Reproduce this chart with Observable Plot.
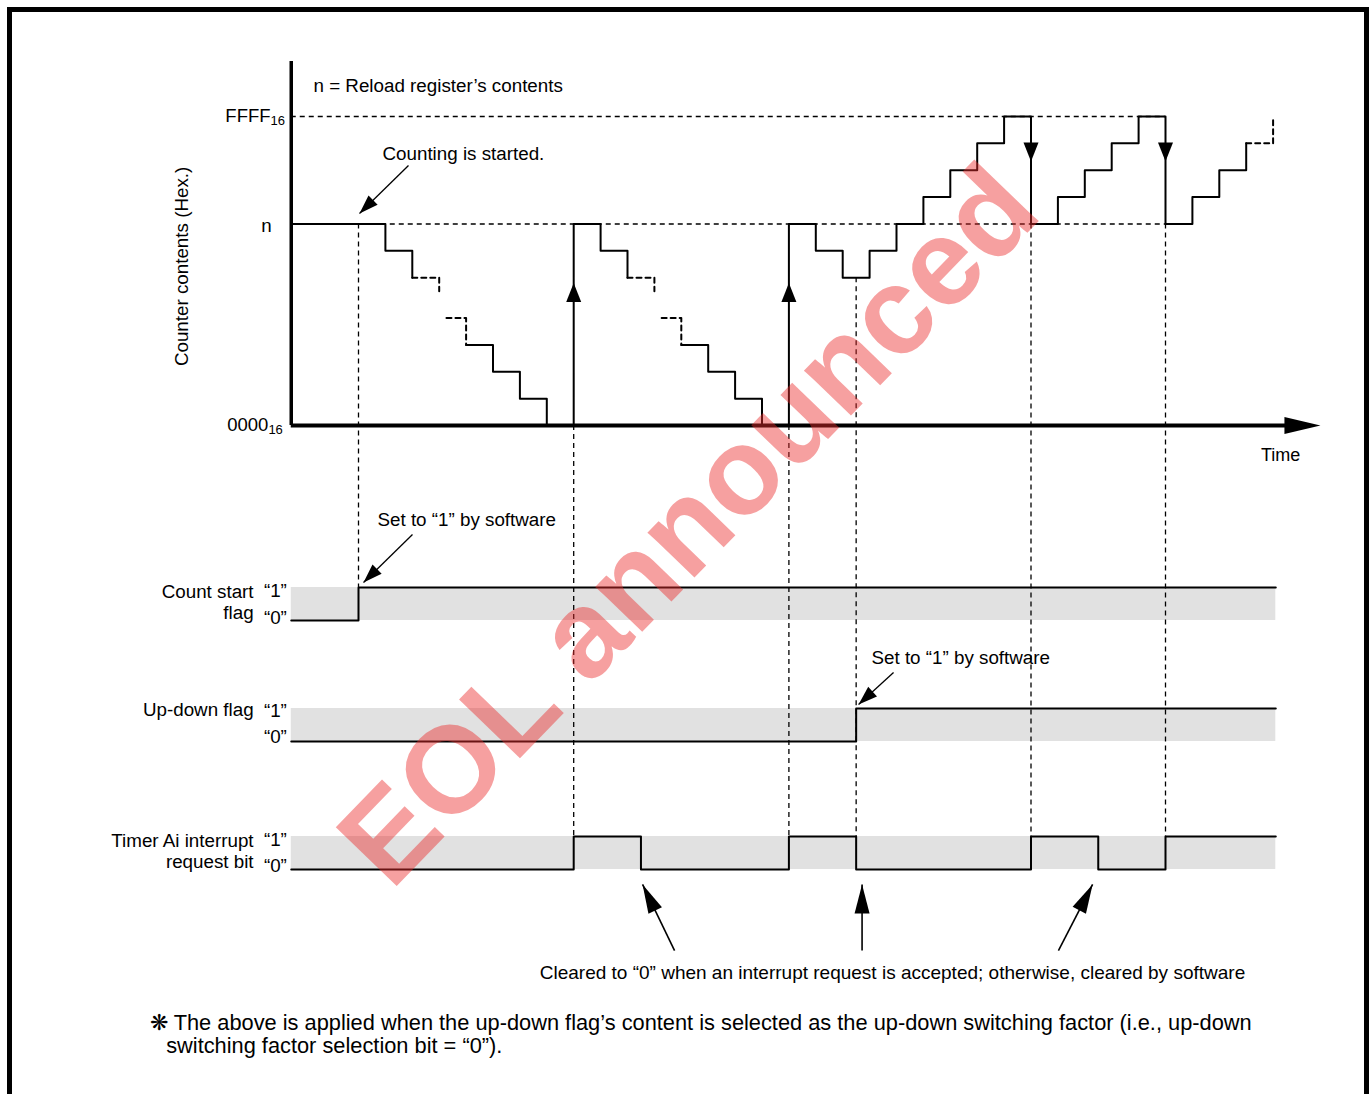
<!DOCTYPE html>
<html><head><meta charset="utf-8">
<script src="https://cdn.jsdelivr.net/npm/d3@7"></script>
<script src="https://cdn.jsdelivr.net/npm/@observablehq/plot@0.6"></script>
<style>
body{margin:0;background:#fff;}
#wrap{position:relative;width:1372px;height:1094px;overflow:hidden;background:#fff;}
#frame{position:absolute;left:7px;top:7px;width:1352px;height:1200px;border:5px solid #000;pointer-events:none;}
#chart{position:absolute;left:0;top:0;}
</style></head><body>
<div id="wrap"><div id="chart"></div><div id="frame"></div></div>
<script>
// ---------- data (time in count-source periods, counter in count steps) ----------
const counterRun   = ["s1","s1","s1", "d1","d1", "d2","d2",
  "s2","s2","s2","s2","s2","s2","s2", "d3","d3", "d4","d4",
  "s3","s3","s3","s3","s3","s3","s3","s3","s3","s3","s3","s3","s3","s3","s3","s3","s3","s3","s3","s3","s3","s3",
  "d5","d5"];
const counterTime  = [-2.5,1,2, 2,3, 3.27,4,
  4,5,6,7,8,9,10, 10,11, 11.27,12,
  12,13,14,15,16,17,18,19,20,21,22,23,24,25,26,27,28,29,30,31,32,33,
  33,34];
const counterLevel = [7.5,6.5,5.5, 5.5,5.0, 4,3,
  3,2,1,0,7.5,6.5,5.5, 5.5,5.0, 4,3,
  3,2,1,0,7.5,6.5,5.5,6.5,7.5,8.5,9.5,10.5,11.5,7.5,8.5,9.5,10.5,11.5,7.5,8.5,9.5,10.5,
  10.5,11.5];

const reloadTime  = [8, 16];      // underflow -> reload n (arrow up)
const overflowTime = [25, 30];    // overflow -> reload n (arrow down)

const levelN = 7.5, levelFFFF = 11.5, level0000 = 0;

const countStartT = [-2.5, 0, 34.1],  countStartS = [0, 1, 1];
const upDownT     = [-2.5, 18.5, 34.1], upDownS = [0, 1, 1];
const interruptT  = [-2.5, 8, 10.5, 16, 18.5, 25, 27.5, 30, 34.1];
const interruptS  = [0, 1, 0, 1, 0, 1, 0, 1, 1];

const guideT      = [0, 8, 16, 18.5, 25, 30];
const guideTop    = [7.5, 0, 0, 5.5, 7.5, 7.5];

const laneName = ["count", "updown", "interrupt"];
const laneLow  = [-7.257, -11.760, -16.524];
const laneHigh = [-6.029, -10.532, -15.296];

// ---------- layout helpers ----------
const fontFamily = "'Liberation Sans', Arial, Helvetica, sans-serif";
const xOpt = {domain: [0, 34], range: [358, 1272.6]};
const yOpt = {domain: [0, 11.5], range: [425, 116]};
const xs = Plot.scale({x: xOpt}), ys = Plot.scale({y: yOpt});
const tStart = -2.5, tEnd = 34.1;
const fs = 18.8;

function tipTri(w, h) { return {draw(c) { c.moveTo(0, 0); c.lineTo(w / 2, h); c.lineTo(-w / 2, h); c.closePath(); }}; }
function midTri(w, h) { return {draw(c) { c.moveTo(0, -h / 2); c.lineTo(w / 2, h / 2); c.lineTo(-w / 2, h / 2); c.closePath(); }}; }
function angle(d) {
  const dx = xs.apply(d.t2) - xs.apply(d.t1), dy = ys.apply(d.v2) - ys.apply(d.v1);
  return Math.atan2(dx, -dy) * 180 / Math.PI;
}

const counter = counterTime.map((t, i) => ({t, v: counterLevel[i], run: counterRun[i]}));
const lanes = laneName.map((name, i) => ({name, low: laneLow[i], high: laneHigh[i]}));
const flagRows = (T, S, lane) => T.map((t, i) => ({t, v: lane.low + S[i] * (lane.high - lane.low), lane: lane.name}));
const flags = [...flagRows(countStartT, countStartS, lanes[0]), ...flagRows(upDownT, upDownS, lanes[1]), ...flagRows(interruptT, interruptS, lanes[2])];
const guides = guideT.map((t, i) => ({t, top: guideTop[i], bottom: i === 0 ? laneHigh[0] : laneHigh[2]}));

const noteArrows = [
  {t1: 1.859, v1: 9.676, t2: 0.037, v2: 7.89},
  {t1: 2.007, v1: -4.057, t2: 0.186, v2: -5.843},
  {t1: 19.89, v1: -9.192, t2: 18.59, v2: -10.38}
];
const clearArrows = [
  {t1: 11.75, v1: -19.54, t2: 10.56, v2: -17.08},
  {t1: 18.72, v1: -19.54, t2: 18.72, v2: -17.08},
  {t1: 26.02, v1: -19.54, t2: 27.29, v2: -17.08}
];

const labelsStart = [
  {text: "n = Reload register’s contents", t: -1.673, v: 12.62},
  {text: "Counting is started.", t: 0.892, v: 10.12},
  {text: "Set to “1” by software", t: 0.706, v: -3.498},
  {text: "Set to “1” by software", t: 19.07, v: -8.634},
  {text: "❋ The above is applied when the up-down flag’s content is selected as the up-down switching factor (i.e., up-down", t: -7.75, v: -22.25, size: 21.8},
  {text: "switching factor selection bit = “0”).", t: -7.15, v: -23.1, size: 21.8}
];
const labelsEnd = [
  {text: "Count start", t: -3.9, v: -6.18},
  {text: "flag", t: -3.9, v: -6.96},
  {text: "Up-down flag", t: -3.9, v: -10.57},
  {text: "Timer Ai interrupt", t: -3.9, v: -15.48},
  {text: "request bit", t: -3.9, v: -16.26}
];
const bitLabels = [
  {text: "“1”", v: -6.14}, {text: "“0”", v: -7.18},
  {text: "“1”", v: -10.61}, {text: "“0”", v: -11.61},
  {text: "“1”", v: -15.44}, {text: "“0”", v: -16.41}
];
const tickMain = [{text: "FFFF", t: -3.27, v: levelFFFF}, {text: "0000", t: -3.35, v: level0000}];
const tickSub  = [{text: "16", t: -3.27, v: levelFFFF}, {text: "16", t: -3.35, v: level0000}];

const chart = Plot.plot({
  width: 1372, height: 1094,
  marginTop: 0, marginRight: 0, marginBottom: 0, marginLeft: 0,
  x: {...xOpt, axis: null},
  y: {...yOpt, axis: null},
  style: {fontFamily, background: "transparent", color: "black"},
  marks: [
    // flag bands
    Plot.rect(lanes, {x1: tStart, x2: tEnd, y1: "low", y2: "high", fill: "#e1e1e1"}),
    // dashed guides
    Plot.ruleY([levelFFFF, levelN], {x1: tStart, x2: 30, stroke: "black", strokeWidth: 1.3, strokeDasharray: "5,4"}),
    Plot.ruleX(guides, {x: "t", y1: "top", y2: "bottom", stroke: "black", strokeWidth: 1.3, strokeDasharray: "5,4"}),
    // counter
    Plot.line(counter.filter(d => d.run[0] === "s"), {x: "t", y: "v", z: "run", curve: "step-after", stroke: "black", strokeWidth: 2}),
    Plot.line(counter.filter(d => d.run[0] === "d"), {x: "t", y: "v", z: "run", curve: "step-after", stroke: "black", strokeWidth: 2, strokeDasharray: "5,4"}),
    Plot.dot(reloadTime, {x: d => d, y: 4.95, symbol: midTri(15, 19), fill: "black", stroke: null}),
    Plot.dot(overflowTime, {x: d => d, y: 10.18, symbol: midTri(15, 19), rotate: 180, fill: "black", stroke: null}),
    // axes
    Plot.ruleX([tStart], {y1: 0, y2: 13.55, stroke: "black", strokeWidth: 3.5}),
    Plot.ruleY([0], {x1: tStart, x2: 35.2, stroke: "black", strokeWidth: 4}),
    Plot.dot([35.76], {x: d => d, y: 0, symbol: tipTri(17, 36), rotate: 90, fill: "black", stroke: null}),
    // flags
    Plot.line(flags, {x: "t", y: "v", z: "lane", curve: "step-after", stroke: "black", strokeWidth: 2}),
    // annotation arrows
    Plot.link(noteArrows, {x1: "t1", y1: "v1", x2: "t2", y2: "v2", stroke: "black", strokeWidth: 1.3}),
    Plot.dot(noteArrows, {x: "t2", y: "v2", symbol: tipTri(13, 19), rotate: angle, fill: "black", stroke: null}),
    Plot.link(clearArrows, {x1: "t1", y1: "v1", x2: "t2", y2: "v2", stroke: "black", strokeWidth: 1.6}),
    Plot.dot(clearArrows, {x: "t2", y: "v2", symbol: tipTri(15, 29), rotate: angle, fill: "black", stroke: null}),
    // texts
    Plot.text(labelsStart, {x: "t", y: "v", text: "text", textAnchor: "start", fontSize: d => d.size || fs, fill: "black"}),
    Plot.text(labelsEnd, {x: "t", y: "v", text: "text", textAnchor: "end", fontSize: fs, fill: "black"}),
    Plot.text(bitLabels, {x: -3.09, y: "v", text: "text", textAnchor: "middle", fontSize: fs, fill: "black"}),
    Plot.text(tickMain, {x: "t", y: "v", text: "text", textAnchor: "end", fontSize: 18.5, fill: "black"}),
    Plot.text(tickSub, {x: "t", y: "v", text: "text", textAnchor: "start", fontSize: 13, dy: 4, fill: "black"}),
    Plot.text(["n"], {x: -3.42, y: 7.42, text: d => d, fontSize: fs, fill: "black"}),
    Plot.text(["Time"], {x: 34.28, y: -1.117, text: d => d, fontSize: 18, fill: "black"}),
    Plot.text(["Counter contents (Hex.)"], {x: -6.58, y: 5.92, text: d => d, rotate: -90, fontSize: fs, fill: "black"}),
    Plot.text(["Cleared to “0” when an interrupt request is accepted; otherwise, cleared by software"], {x: 19.85, y: -20.36, text: d => d, fontSize: 19, fill: "black"}),
    // watermark
    Plot.text(["EOL announced"], {x: 12.3, y: -3.75, text: d => d, rotate: -46, fontSize: 123, fontWeight: "bold", fill: "rgb(235,45,45)", fillOpacity: 0.45})
  ]
});
document.getElementById("chart").appendChild(chart);
</script>
</body></html>
